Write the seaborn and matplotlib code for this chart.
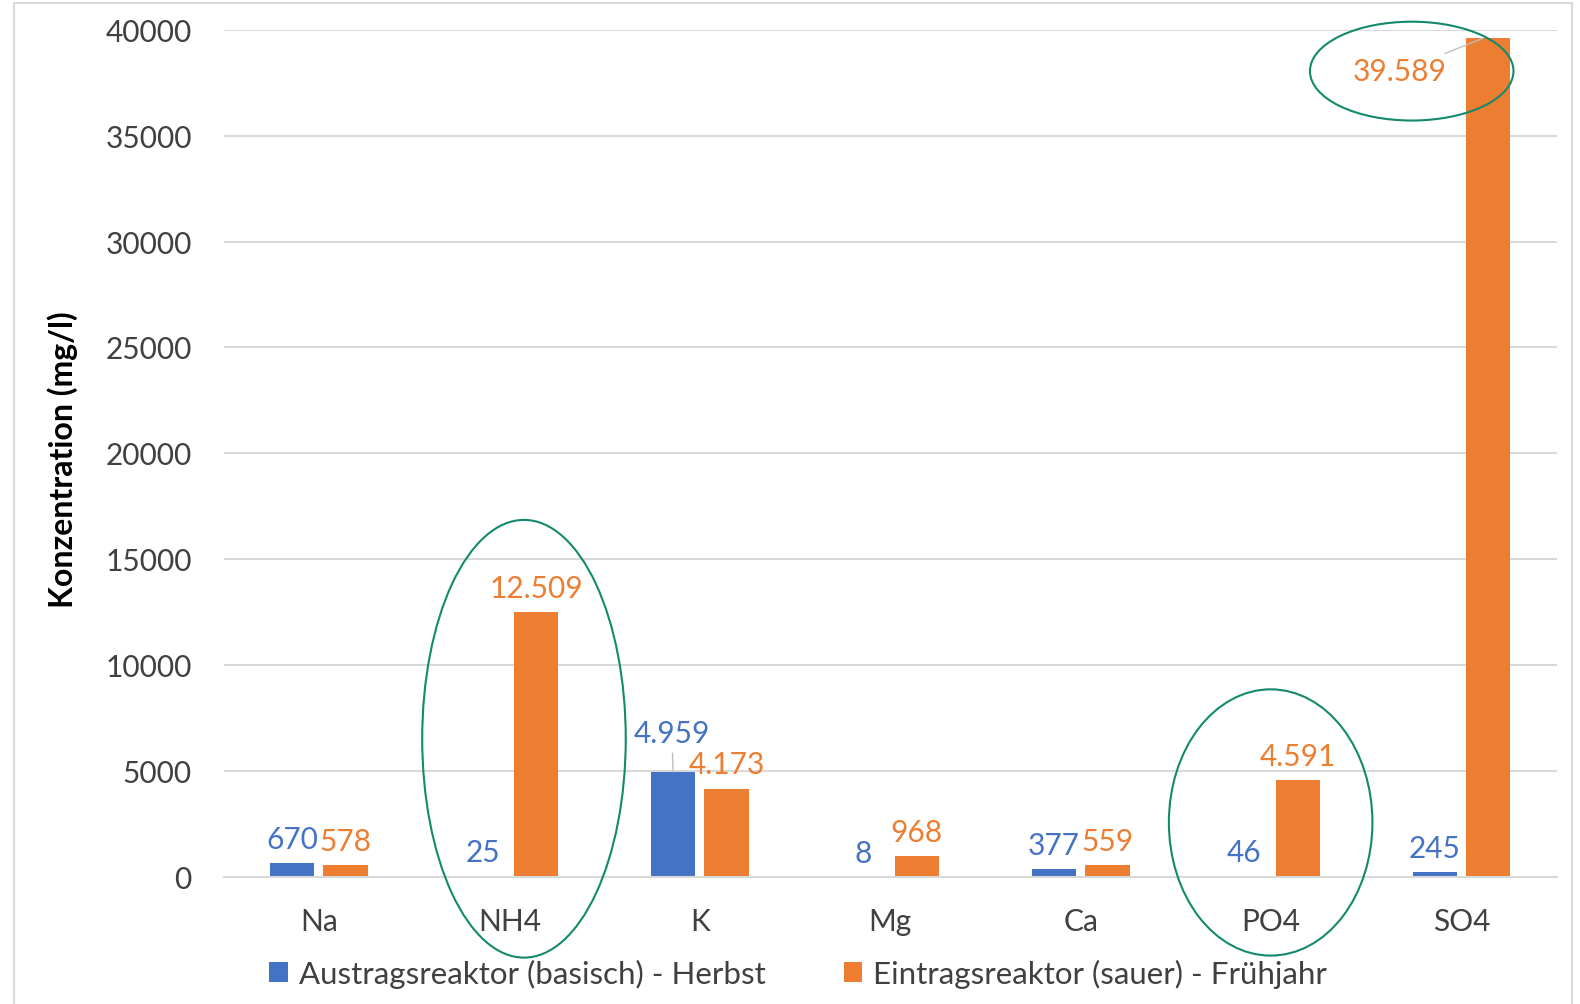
import matplotlib
matplotlib.use("Agg")
import matplotlib.pyplot as plt
from matplotlib.patches import Ellipse, Rectangle
import seaborn as sns
import pandas as pd

# ---- data ----
ionen = ["Na", "NH4", "K", "Mg", "Ca", "PO4", "SO4"]
austrag_herbst = [670, 25, 4959, 8, 377, 46, 245]
eintrag_fruehjahr = [578, 12509, 4173, 968, 559, 4591, 39589]
serien = ["Austragsreaktor (basisch) - Herbst", "Eintragsreaktor (sauer) - Frühjahr"]
y_ticks = [0, 5000, 10000, 15000, 20000, 25000, 30000, 35000, 40000]
y_label = "Konzentration (mg/l)"

BLUE = "#4472C4"
ORANGE = "#ED7D31"
GRID = "#d9d9d9"
TXT = "#404040"
GREEN = "#138a6c"

df = pd.DataFrame({
    "Ion": ionen * 2,
    "Wert": austrag_herbst + eintrag_fruehjahr,
    "Serie": [serien[0]] * len(ionen) + [serien[1]] * len(ionen),
})

sns.set_style("white")
plt.rcParams["font.family"] = ["Lato", "DejaVu Sans"]

# layout measured on a 1568x996 view
W, H = 1568, 996
FS = 21.5
fig = plt.figure(figsize=(15.8, 10.045), dpi=100)
ax = fig.add_axes([222 / W, (H - 870) / H, (1545 - 222) / W, 840 / H])

sns.barplot(data=df, x="Ion", y="Wert", hue="Serie", order=ionen, hue_order=serien,
            palette=[BLUE, ORANGE], width=0.56, gap=0.17, saturation=1, ax=ax,
            errorbar=None, linewidth=0)

ax.set_ylim(0, 40000)
ax.set_xlim(-0.5, len(ionen) - 0.5)
ax.set_yticks(y_ticks)
ax.set_yticklabels([str(t) for t in y_ticks])
ax.yaxis.grid(True, color=GRID, lw=1.5)
ax.set_axisbelow(True)
for s in ["top", "right", "left"]:
    ax.spines[s].set_visible(False)
ax.spines["bottom"].set_color(GRID)
ax.spines["bottom"].set_linewidth(1.5)
ax.tick_params(axis="both", length=0, labelsize=FS, labelcolor=TXT)
ax.tick_params(axis="y", pad=23)
ax.tick_params(axis="x", pad=22)
ax.set_xlabel("")
ax.set_ylabel("")
fig.text(62 / W, 1 - 456 / H, y_label, rotation=90, ha="center", va="center",
         fontsize=23, fontweight="bold", color="black")

def fmt(v):
    return f"{v:,}".replace(",", ".")

# data labels
for ci, (cont, color, vals) in enumerate(zip(ax.containers, [BLUE, ORANGE],
                                             [austrag_herbst, eintrag_fruehjahr])):
    for i, (bar, v) in enumerate(zip(cont, vals)):
        x = bar.get_x() + bar.get_width() / 2
        top = bar.get_height()
        if ci == 0 and ionen[i] == "K":
            ax.annotate(fmt(v), xy=(x, top), xytext=(-1, 28), textcoords="offset points",
                        ha="center", va="center", color=color, fontsize=FS,
                        arrowprops=dict(arrowstyle="-", color="#bfbfbf", lw=1,
                                        shrinkA=2, shrinkB=0))
        elif ci == 1 and ionen[i] == "SO4":
            ax.annotate(fmt(v), xy=(x - 0.03, top), xytext=(-60, -24), textcoords="offset points",
                        ha="center", va="center", color=color, fontsize=FS,
                        arrowprops=dict(arrowstyle="-", color="#bfbfbf", lw=1,
                                        shrinkA=2, shrinkB=0))
        else:
            ax.annotate(fmt(v), xy=(x, top), xytext=(0, 17), textcoords="offset points",
                        ha="center", va="center", color=color, fontsize=FS)

# legend
handles, labels = ax.get_legend_handles_labels()
if ax.get_legend() is not None:
    ax.get_legend().remove()
fig.legend(handles, labels, loc="center", bbox_to_anchor=(792 / W, 1 - 966 / H),
           ncol=2, frameon=False, fontsize=22.5, handlelength=0.6, handleheight=0.6,
           handletextpad=0.35, columnspacing=2.5, labelcolor=TXT)

# highlight ellipses (figure positions)
for cx, cy, w, h in [(520, 733, 202, 434), (1261, 816, 202, 264), (1401, 71, 202, 98)]:
    fig.patches.append(Ellipse((cx / W, 1 - cy / H), w / W, h / H, transform=fig.transFigure,
                               fill=False, edgecolor=GREEN, lw=1.5, zorder=10))

# chart frame
fig.patches.append(Rectangle((14 / W, -0.01), (1560 - 14) / W, 1 - 3 / H + 0.01,
                             transform=fig.transFigure, fill=False, edgecolor=GRID, lw=1.5))

fig.savefig("out.png", dpi=100)
